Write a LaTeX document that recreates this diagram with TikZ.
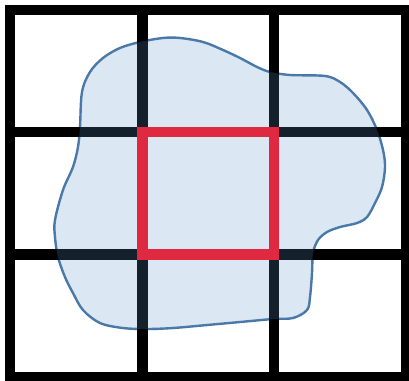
\documentclass[tikz,border=0pt]{standalone}
\definecolor{gridblack}{RGB}{0,0,0}
\definecolor{blobfill}{RGB}{93,148,204}
\definecolor{blobline}{RGB}{72,118,164}
\definecolor{redsq}{RGB}{222,41,64}
\tikzset{
  gridline/.style={draw=gridblack, line width=10.5pt},
  blobstroke/.style={draw=blobline, line width=2.4pt},
  blobarea/.style={fill=blobfill, fill opacity=0.22},
  redbox/.style={draw=redsq, line width=10.5pt},
}
\begin{document}
\begin{tikzpicture}[x=1pt,y=-1pt]
\useasboundingbox (0,0) rectangle (409,380);
\clip (0,0) rectangle (409,380);
\fill[white] (0,0) rectangle (409,380);
\def\blobpath{plot[smooth cycle, tension=0.55] coordinates {
(80,127) (82,92) (90,72) (103,58) (120,48) (140,42) (163,38) (180,38) (203,42) (223,50) (240,58) (257,67) (270,72) (290,75) (325,76) (340,82) (353,93) (367,110) (377,130) (383,150) (385,167) (382,187) (375,203) (367,217) (357,223) (340,227) (327,232) (318,240) (313,253) (312,273) (310,297) (307,310) (293,318) (273,319) (240,322) (207,325) (173,328) (147,329) (123,328) (100,323) (83,310) (73,293) (65,277) (58,257) (55,237) (55,220) (63,190) (73,167) (78,147)}}
% blob outline
\path[blobstroke] \blobpath;
% grid
\coordinate (g00) at (10,10);
\coordinate (g33) at (406,377);
\path[gridline] (g00) rectangle (g33);
\path[gridline] (142.5,10) -- (142.5,377);
\path[gridline] (274,10) -- (274,377);
\path[gridline] (10,132) -- (406,132);
\path[gridline] (10,254.5) -- (406,254.5);
% blob fill
\path[blobarea] \blobpath;
% red square
\coordinate (r1) at (142.5,132);
\coordinate (r2) at (274,254.5);
\path[redbox] (r1) rectangle (r2);
\end{tikzpicture}
\end{document}
